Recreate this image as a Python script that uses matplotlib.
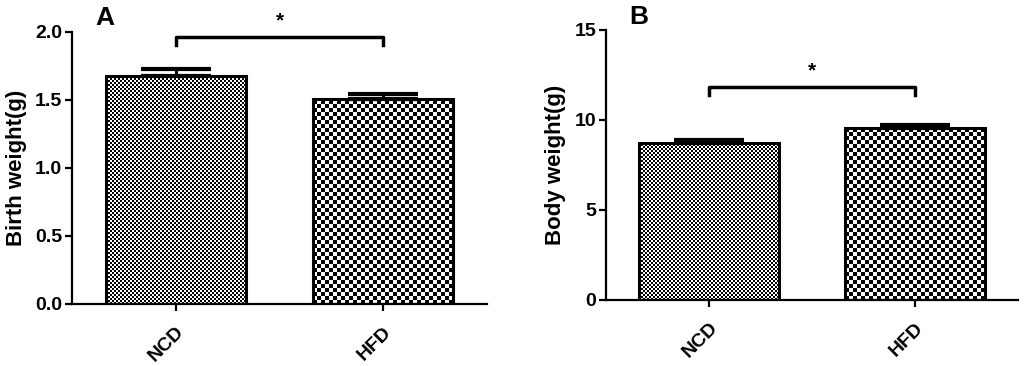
import numpy as np
import matplotlib
matplotlib.use("Agg")
import matplotlib.pyplot as plt

plt.rcParams['font.family'] = ['Liberation Sans', 'DejaVu Sans']
plt.rcParams['font.weight'] = 'bold'

groups = ["NCD", "HFD"]
birth_mean = [1.675, 1.505]
birth_err = [0.055, 0.04]
body_mean = [8.7, 9.55]
body_err = [0.18, 0.15]

# checker cell size (pixels) per group
cell_px = [2, 4]

W, H, DPI = 1024, 366, 100
fig = plt.figure(figsize=(W / DPI, H / DPI), dpi=DPI)
axA = fig.add_axes([72 / W, 62 / H, 415 / W, 272 / H])
axB = fig.add_axes([606 / W, 66 / H, 412 / W, 270 / H])


def checker(nx, ny, cell):
    ix = np.arange(nx) // cell
    iy = np.arange(ny) // cell
    return ((ix[None, :] + iy[:, None]) % 2).astype(float)


def draw_panel(ax, means, errs, ylim, yticks, yticklabels, ylabel, letter,
               bracket_y, bracket_drop, star_y):
    x = np.arange(len(groups))
    ax.set_xlim(-0.5, 1.5)
    ax.set_ylim(*ylim)
    bars = ax.bar(x, means, width=0.675, facecolor='none', edgecolor='black',
                  linewidth=2.2, zorder=3)
    fig.canvas.draw()
    ax_w = ax.get_window_extent().width
    ax_h = ax.get_window_extent().height
    for b, cell in zip(bars, cell_px):
        x0, w, h = b.get_x(), b.get_width(), b.get_height()
        nx = int(w / 2.0 * ax_w) + 1
        ny = int(h / (ylim[1] - ylim[0]) * ax_h) + 1
        img = checker(nx, ny, cell)
        im = ax.imshow(img, cmap='gray', extent=(x0, x0 + w, 0, h),
                       aspect='auto', interpolation='nearest', zorder=2,
                       origin='lower', vmin=0, vmax=1)
        im.set_clip_path(b)
    ax.set_xlim(-0.5, 1.5)
    ax.set_ylim(*ylim)
    ax.errorbar(x, means, yerr=[[0] * len(errs), errs], fmt='none',
                ecolor='black', elinewidth=2.2, capsize=25, capthick=3,
                zorder=4)
    # significance bracket
    ax.plot([0, 0, 1, 1], [bracket_y - bracket_drop, bracket_y, bracket_y,
                           bracket_y - bracket_drop],
            color='black', linewidth=2.5, clip_on=False, zorder=5)
    ax.text(0.5, star_y, "*", ha='center', va='center', fontsize=15,
            clip_on=False)

    for s in ['top', 'right']:
        ax.spines[s].set_visible(False)
    for s in ['left', 'bottom']:
        ax.spines[s].set_linewidth(1.6)
    ax.set_yticks(yticks)
    ax.set_yticklabels(yticklabels)
    ax.set_xticks(x)
    ax.set_xticklabels(groups, rotation=45, ha='right', va='top',
                       rotation_mode='anchor')
    ax.tick_params(axis='both', width=1.6, length=5, labelsize=14, pad=2)
    ax.tick_params(axis='x', pad=9)
    ax.set_ylabel(ylabel, fontsize=16, fontweight='bold', labelpad=6)
    ax.text(0.08, 1.05, letter, transform=ax.transAxes, fontsize=19,
            fontweight='bold', ha='center', va='center')


draw_panel(axA, birth_mean, birth_err, (0, 2.0), [0, 0.5, 1.0, 1.5, 2.0],
           ["0.0", "0.5", "1.0", "1.5", "2.0"], "Birth weight(g)", "A",
           1.963, 0.06, 2.08)
draw_panel(axB, body_mean, body_err, (0, 15), [0, 5, 10, 15],
           ["0", "5", "10", "15"], "Body weight(g)", "B",
           11.83, 0.45, 12.75)

fig.savefig("out.png", dpi=DPI)
